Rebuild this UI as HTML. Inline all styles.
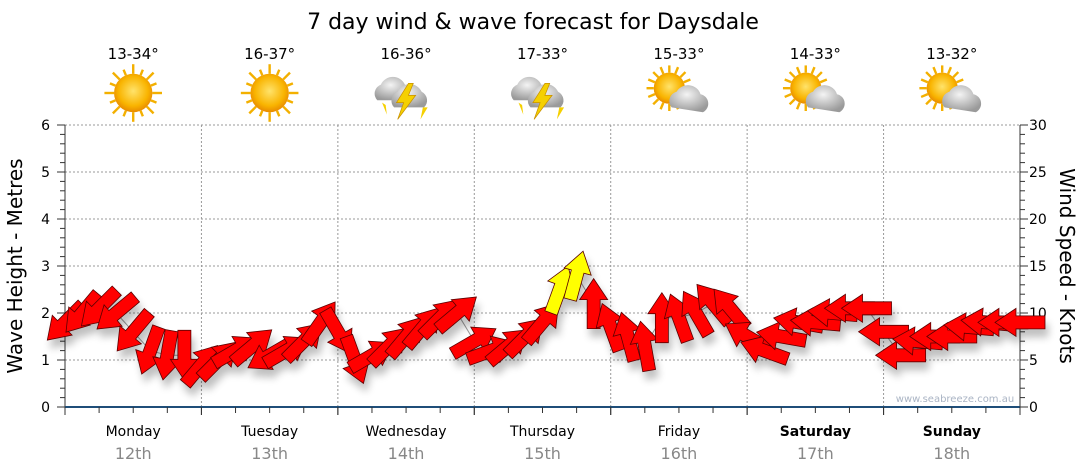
<!DOCTYPE html>
<html><head><meta charset="utf-8">
<style>
body{margin:0;background:#fff;}
svg{display:block;font-family:"DejaVu Sans","Liberation Sans",sans-serif;}
</style></head>
<body>
<svg id="chart" width="1080" height="475" viewBox="0 0 1080 475">
<defs>
<filter id="sh" x="-50%" y="-50%" width="200%" height="200%"><feGaussianBlur in="SourceAlpha" stdDeviation="4"/><feOffset dx="3" dy="8"/><feComponentTransfer><feFuncA type="linear" slope="0.25"/></feComponentTransfer><feMerge><feMergeNode/><feMergeNode in="SourceGraphic"/></feMerge></filter>
<radialGradient id="sun" cx="50%" cy="45%" r="55%"><stop offset="0" stop-color="#ffe36b"/><stop offset="0.7" stop-color="#f9b400"/><stop offset="1" stop-color="#e88a00"/></radialGradient>
<radialGradient id="cloud" cx="45%" cy="35%" r="65%"><stop offset="0" stop-color="#f4f4f4"/><stop offset="1" stop-color="#9a9a9a"/></radialGradient>
</defs>
<text x="533" y="29" text-anchor="middle" font-size="22" fill="#000">7 day wind &amp; wave forecast for Daysdale</text>
<g id="grid"></g>
<g id="axes"></g>
<g id="wx"></g>
<g id="marks" filter="url(#sh)"></g>
<text x="955" y="402" text-anchor="middle" font-size="10" fill="#aab4c4">www.seabreeze.com.au</text>
<text transform="translate(22,266) rotate(-90)" text-anchor="middle" font-size="20" fill="#000">Wave Height - Metres</text>
<text transform="translate(1060,266) rotate(90)" text-anchor="middle" font-size="20" fill="#000">Wind Speed - Knots</text>
</svg>
<script>
const days = ["Monday","Tuesday","Wednesday","Thursday","Friday","Saturday","Sunday"];
const dates = ["12th","13th","14th","15th","16th","17th","18th"];
const temps = ["13-34°","16-37°","16-36°","17-33°","15-33°","14-33°","13-32°"];
const icons = ["sun","sun","storm","storm","partly","partly","partly"];
const waveTicks = [0,1,2,3,4,5,6];
const windTicks = [0,5,10,15,20,25,30];
// wind speed (knots), every 3 hours
const windSpeed = [9,10,10.5,10,8,6,5.5,5.5, 4.5,5,6,6.5,5.5,6,7,9, 8,5,5.5,6.5,7.5,8.5,9.5,10, 7,6,6.5,7.5,9,12.5,14,11, 8.5,7.5,6.5,9.5,9.5,10,11,10.5, 7.5,6,7.5,9,9,10,10.5,10.5, 8,5.5,7,7.5,7.5,8.5,9,9,9];
// direction the arrow points, compass degrees
const windDir = [225,220,225,230,220,200,190,180, 40,45,60,50,240,60,45,35, 150,160,60,45,40,40,45,50, 60,70,50,45,40,20,15,0, 340,345,350,0,340,330,320,320, 300,290,280,280,275,275,270,270, 270,270,275,270,270,275,275,270,270];

const NS="http://www.w3.org/2000/svg";
const X0=65,X1=1020,Y0=407,YT=125;
const xPos=i=>X0+(X1-X0)*i/(windSpeed.length-1);
const yWave=m=>Y0-(Y0-YT)*m/6;
const yWind=k=>Y0-(Y0-YT)*k/30;
const dayX=d=>X0+(X1-X0)*d/7;
function el(t,a,p){const e=document.createElementNS(NS,t);for(const k in a)e.setAttribute(k,a[k]);p.appendChild(e);return e;}
const grid=document.getElementById('grid'),axes=document.getElementById('axes'),marks=document.getElementById('marks'),wx=document.getElementById('wx');

waveTicks.forEach(m=>{
  if(m>0){const g=el('line',{x1:X0,x2:X1,y1:yWave(m),y2:yWave(m),stroke:'#999','stroke-dasharray':'2,2'},grid);
  
  }
  const t=el('text',{x:50,y:yWave(m)+5,'text-anchor':'end','font-size':14,fill:'#000'},axes);t.textContent=m;
  
  
});
for(let i=0;i<=30;i++){const y=yWave(i*0.2);el('line',{x1:X0-(i%5?5:8),x2:X0,y1:y,y2:y,stroke:'#333'},axes);el('line',{x1:X1,x2:X1+(i%5?5:8),y1:y,y2:y,stroke:'#333'},axes);}
windTicks.forEach(k=>{
  const t=el('text',{x:1029,y:yWind(k)+5,'font-size':14,fill:'#000'},axes);t.textContent=k;
  
  
});
el('line',{x1:X0,x2:X0,y1:YT,y2:Y0,stroke:'#333'},axes);
el('line',{x1:X1,x2:X1,y1:YT,y2:Y0,stroke:'#333'},axes);
el('line',{x1:X0,x2:X1,y1:Y0,y2:Y0,stroke:'#1f4e79','stroke-width':2},axes);
for(let d=0;d<7;d++){
  if(d>0){const g=el('line',{x1:dayX(d),x2:dayX(d),y1:YT,y2:Y0,stroke:'#999','stroke-dasharray':'2,2'},grid);
  
  }
  for(let q=0;q<=4;q++){const x=dayX(d)+(dayX(1)-X0)*q/4;el('line',{x1:x,x2:x,y1:Y0,y2:Y0+(q%4?6:8),stroke:'#333'},axes);}
  const cx=(dayX(d)+dayX(d+1))/2;
  const wk=d>=5;
  const t=el('text',{x:cx,y:436,'text-anchor':'middle','font-size':14,fill:'#000','font-weight':wk?'bold':'normal'},axes);t.textContent=days[d];
  
  
  const t2=el('text',{x:cx,y:459,'text-anchor':'middle','font-size':16,fill:'#888'},axes);t2.textContent=dates[d];
  
  
  const t3=el('text',{x:cx,y:59,'text-anchor':'middle','font-size':15,fill:'#000'},wx);t3.textContent=temps[d];
  
  
  const g=el('g',{transform:`translate(${cx},93) scale(1.2)`},wx);
  
  
  if(icons[d]==='sun'){
    for(let r=0;r<16;r++){const a=r*Math.PI/8;el('line',{x1:Math.cos(a)*16,y1:Math.sin(a)*16,x2:Math.cos(a)*(r%2?21:24),y2:Math.sin(a)*(r%2?21:24),stroke:'#f3b000','stroke-width':2},g);}
    el('circle',{r:16,fill:'url(#sun)'},g);
  } else if(icons[d]==='partly'){
    for(let r=0;r<16;r++){const a=r*Math.PI/8;el('line',{x1:-8+Math.cos(a)*13,y1:-4+Math.sin(a)*13,x2:-8+Math.cos(a)*19,y2:-4+Math.sin(a)*19,stroke:'#f3b000','stroke-width':2},g);}
    el('circle',{cx:-8,cy:-4,r:13,fill:'url(#sun)'},g);
    el('path',{d:'M-6 12 a8 8 0 0 1 4-13 a11 11 0 0 1 20 2 a8 8 0 0 1 2 15z',fill:'url(#cloud)'},g);
  } else {
    el('path',{d:'M-24 6 a8 8 0 0 1 3-13 a11 11 0 0 1 20 0 a8 8 0 0 1 2 13z',fill:'url(#cloud)'},g);
    el('path',{d:'M-10 12 a8 8 0 0 1 3-13 a11 11 0 0 1 20 0 a8 8 0 0 1 2 13z',fill:'url(#cloud)'},g);
    el('path',{d:'M2 -8 L-8 8 L-2 8 L-7 22 L8 2 L2 2 L6 -8z',fill:'#f5d000',stroke:'#c89000','stroke-width':0.6},g);
    el('path',{d:'M-20 8 L-16 18 L-17 10z',fill:'#f5d000'},g);
    el('path',{d:'M14 12 L12 22 L18 12z',fill:'#f5d000'},g);
  }
}
// thin wind line
let pts=windSpeed.map((k,i)=>xPos(i)+','+yWind(k)).join(' ');
const pl=el('polyline',{points:pts,fill:'none',stroke:'#999','stroke-width':1},grid);


// arrows
windSpeed.forEach((k,i)=>{
  const ang=windDir[i]-90;
  const g=el('path',{d:'M-25 -6.5 L4 -6.5 L4 -14 L25 0 L4 14 L4 6.5 L-25 6.5 Z',
    transform:`translate(${xPos(i)},${yWind(k)}) rotate(${ang})`,
    fill:k>12?'#ffff00':'#ff0000',stroke:'#5a0000','stroke-width':0.8},marks);
  
  
});
</script>
</body></html>
